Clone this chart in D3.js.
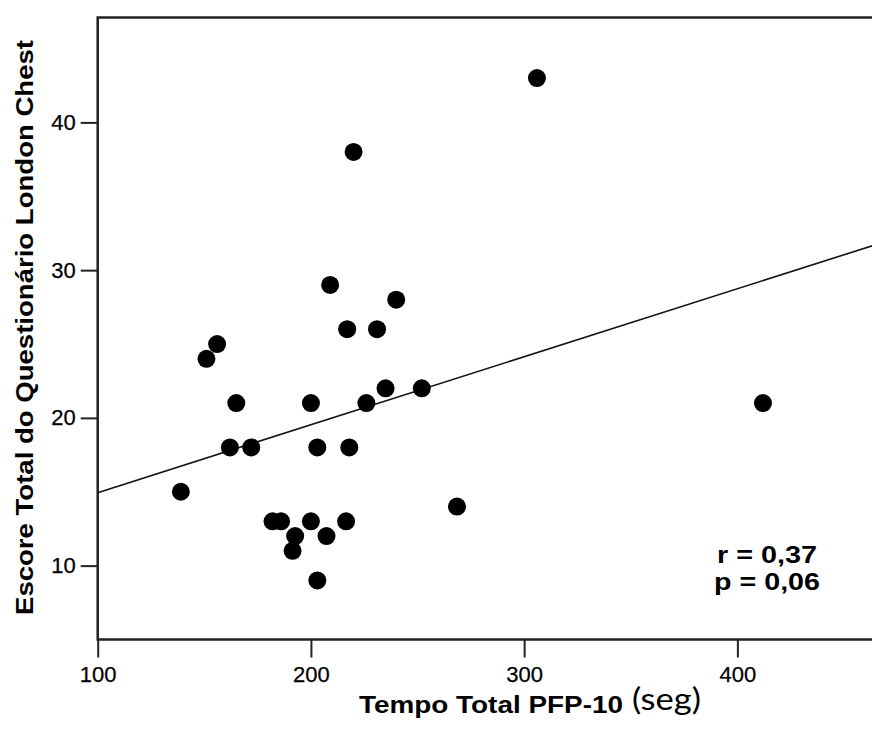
<!DOCTYPE html>
<html lang="pt">
<head>
    <meta charset="UTF-8">
    <title>Escore London Chest x Tempo PFP-10</title>
    <script src="https://d3js.org/d3.v7.min.js"></script>
    <style>
        body, html {
            margin: 0;
            background: #fff;
        }
        svg text {
            font-family: "Liberation Sans", Arial, sans-serif;
            fill: #000;
        }
        .tick text {
            font-size: 22px;
            stroke: #000;
            stroke-width: 0.25px;
        }
        .dot {
            fill: #000;
        }
    </style>
</head>
<body>
<div id="chart"></div>

<script>
// Tempo Total PFP-10 (seg) for each patient
var tempo = [139, 151, 156, 165, 162, 172, 200, 203, 218, 217, 231, 240, 226, 235,
             252, 182, 186, 200, 216.5, 192.6, 207.3, 191.4, 203, 268.5, 209, 220, 306, 412];
// Escore Total do Questionario London Chest
var escore = [15, 24, 25, 21, 18, 18, 21, 18, 18, 26, 26, 28, 21, 22,
              22, 13, 13, 13, 13, 12, 12, 11, 9, 14, 29, 38, 43, 21];

var xTicks = [100, 200, 300, 400];
var yTicks = [10, 20, 30, 40];

// fitted line
var fitIntercept = 10.34;
var fitSlope = 0.046;

var statLines = ["r = 0,37", "p = 0,06"];

var width = 872, height = 729;
var margin = {left: 97.7, top: 17.5};
var plotW = 790, plotH = 622;

var svg = d3.select("#chart").append("svg")
    .attr("width", width)
    .attr("height", height);

var x = d3.scaleLinear().domain([100, 470.5]).range([margin.left, margin.left + plotW]);
var y = d3.scaleLinear().domain([5, 47.1]).range([margin.top + plotH, margin.top]);

svg.append("clipPath").attr("id", "plotClip")
  .append("rect")
    .attr("x", margin.left).attr("y", margin.top)
    .attr("width", plotW).attr("height", plotH);

// axes
var xAxis = svg.append("g")
    .attr("transform", "translate(0," + (margin.top + plotH) + ")")
    .call(d3.axisBottom(x).tickValues(xTicks).tickSize(18).tickPadding(9).tickFormat(d3.format("d")));

var yAxis = svg.append("g")
    .attr("transform", "translate(" + margin.left + ",0)")
    .call(d3.axisLeft(y).tickValues(yTicks).tickSize(17).tickPadding(5).tickFormat(d3.format("d")));

[xAxis, yAxis].forEach(function(g) {
    g.select(".domain").remove();
    g.selectAll(".tick line").attr("stroke", "#222").attr("stroke-width", 2);
    g.selectAll(".tick text").attr("fill", "#000");
});

// frame (right side is cut off in the original)
svg.append("rect")
    .attr("x", margin.left)
    .attr("y", margin.top)
    .attr("width", plotW)
    .attr("height", plotH)
    .attr("fill", "none")
    .attr("stroke", "#222")
    .attr("stroke-width", 2.5);

// regression line
var x0 = x.domain()[0], x1 = x.domain()[1];
svg.append("line")
    .attr("clip-path", "url(#plotClip)")
    .attr("x1", x(x0)).attr("y1", y(fitIntercept + fitSlope * x0))
    .attr("x2", x(x1)).attr("y2", y(fitIntercept + fitSlope * x1))
    .attr("stroke", "#111")
    .attr("stroke-width", 1.6);

// points
svg.selectAll("circle.dot")
    .data(d3.range(tempo.length))
    .enter().append("circle")
    .attr("class", "dot")
    .attr("cx", function(i) { return x(tempo[i]); })
    .attr("cy", function(i) { return y(escore[i]); })
    .attr("r", 9);

// stats label
svg.append("text")
    .attr("x", 717).attr("y", 563)
    .attr("font-size", 24).attr("font-weight", "bold")
    .attr("textLength", 100).attr("lengthAdjust", "spacingAndGlyphs")
    .text(statLines[0]);
svg.append("text")
    .attr("x", 714).attr("y", 590)
    .attr("font-size", 24).attr("font-weight", "bold")
    .attr("textLength", 106).attr("lengthAdjust", "spacingAndGlyphs")
    .text(statLines[1]);

// axis titles
svg.append("text")
    .attr("x", 359).attr("y", 713)
    .attr("font-size", 24).attr("font-weight", "bold")
    .attr("textLength", 264).attr("lengthAdjust", "spacingAndGlyphs")
    .text("Tempo Total PFP-10");

svg.append("text")
    .attr("x", 632).attr("y", 710)
    .style("font-family", "Lato, 'Open Sans', sans-serif")
    .attr("font-size", 31)
    .attr("textLength", 69).attr("lengthAdjust", "spacingAndGlyphs")
    .text("(seg)");

svg.append("text")
    .attr("transform", "translate(33,327.5) rotate(-90)")
    .attr("text-anchor", "middle")
    .attr("font-size", 24).attr("font-weight", "bold")
    .attr("textLength", 575).attr("lengthAdjust", "spacingAndGlyphs")
    .text("Escore Total do Questionário London Chest");
</script>
</body>
</html>
